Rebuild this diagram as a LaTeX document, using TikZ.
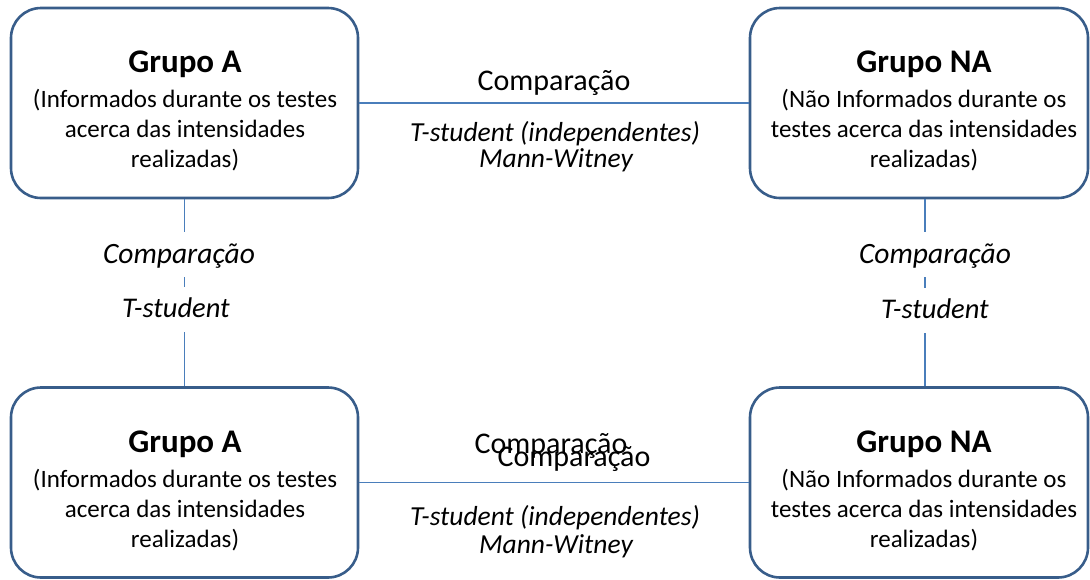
\documentclass[tikz,border=0pt]{standalone}
\usepackage{fontspec}
\setmainfont{Carlito}
\definecolor{boxblue}{HTML}{385D8A}
\definecolor{connblue}{HTML}{4A7EBB}
\begin{document}
\begin{tikzpicture}[x=1pt,y=-1pt,
  grp/.style={draw=boxblue, line width=2.6pt, rounded corners=30pt, rectangle, inner sep=0pt, minimum height=190pt},
  conn/.style={draw=connblue, line width=1.3pt},
  titletxt/.style={font=\fontsize{33}{38}\selectfont\bfseries, inner sep=0pt, anchor=base},
  bodytxt/.style={font=\fontsize{25}{30}\selectfont, align=center, inner sep=0pt, anchor=base},
  cmptxt/.style={font=\fontsize{30}{34}\selectfont, inner sep=0pt, anchor=base},
  ittxt/.style={font=\fontsize{27.5}{30}\selectfont\itshape, inner sep=0pt, anchor=base},
  sidecmp/.style={font=\fontsize{29.5}{32}\selectfont\itshape, fill=white, inner xsep=3pt, inner ysep=5pt, text height=26pt, text depth=9pt, anchor=base},
  sidet/.style={font=\fontsize{28.5}{30}\selectfont\itshape, fill=white, inner xsep=3pt, inner ysep=5pt, text height=25pt, text depth=10pt, anchor=base}]
\useasboundingbox (0,0) rectangle (1090,579);

% boxes
\node[grp, minimum width=347pt] (tl) at (184.5,103) {};
\node[grp, minimum width=338pt] (tr) at (919,103) {};
\node[grp, minimum width=347pt] (bl) at (184.5,482.5) {};
\node[grp, minimum width=338pt] (br) at (919,482.5) {};
\coordinate (rv) at (925,0);

% connectors
\draw[conn] (tl.east) -- (tr.west);
\draw[conn] (bl.east) -- (br.west);
\draw[conn] (tl.south) -- (bl.north);
\draw[conn] (tr.south -| rv) -- (br.north -| rv);

% box texts
\node[titletxt] (tlt) at (185,72) {Grupo A};
\node[bodytxt] (tlb) at (185,167) {(Informados durante os testes\\acerca das intensidades\\realizadas)};
\node[titletxt] (trt) at (924,72) {Grupo NA};
\node[bodytxt] (trb) at (924,167) {(Não Informados durante os\\testes acerca das intensidades\\realizadas)};
\node[titletxt] (blt) at (185,452) {Grupo A};
\node[bodytxt] (blb) at (185,547) {(Informados durante os testes\\acerca das intensidades\\realizadas)};
\node[titletxt] (brt) at (924,452) {Grupo NA};
\node[bodytxt] (brb) at (924,547) {(Não Informados durante os\\testes acerca das intensidades\\realizadas)};

% top horizontal labels
\node[cmptxt] (tc) at (554,90) {Comparação};
\node[ittxt] (tt) at (555,141) {T-student (independentes)};
\node[ittxt] (tm) at (556,167) {Mann-Witney};

% bottom horizontal labels
\node[cmptxt] (bc1) at (551,453) {Comparação};
\node[cmptxt] (bc2) at (574,466) {Comparação};
\node[ittxt] (bt) at (555,525) {T-student (independentes)};
\node[ittxt] (bm) at (556,553) {Mann-Witney};

% side labels
\node[sidecmp] (lc) at (179,263) {Comparação};
\node[sidet] (lt) at (176,317) {T-student};
\node[sidecmp] (rc) at (935,263) {Comparação};
\node[sidet] (rt) at (935,318) {T-student};
\end{tikzpicture}
\end{document}
